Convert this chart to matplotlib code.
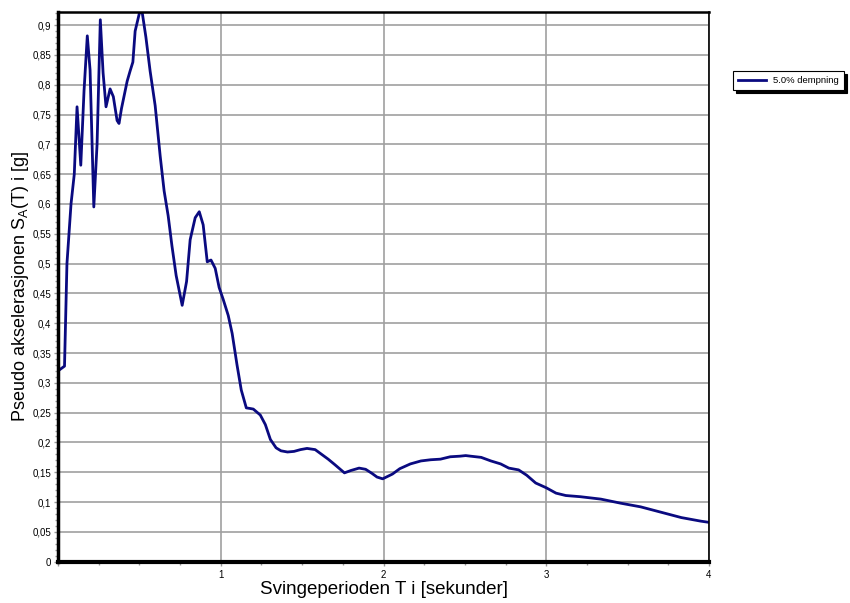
import numpy as np
import matplotlib
matplotlib.use('Agg')
import matplotlib.pyplot as plt
from matplotlib.ticker import MultipleLocator, FuncFormatter

# %% Data
T = [0.0, 0.04, 0.055, 0.08, 0.10, 0.117, 0.14, 0.16, 0.18, 0.197,
     0.22, 0.24, 0.26, 0.277, 0.295, 0.32, 0.34, 0.363, 0.375, 0.39,
     0.425, 0.443, 0.46, 0.474, 0.50, 0.517, 0.54, 0.566, 0.597, 0.628,
     0.652, 0.677, 0.70, 0.726, 0.763, 0.79, 0.812, 0.843, 0.868, 0.892,
     0.917, 0.94, 0.966, 0.99, 1.015, 1.046, 1.07, 1.10, 1.126, 1.157,
     1.18, 1.20, 1.243, 1.274, 1.305, 1.34, 1.37, 1.41, 1.45, 1.49,
     1.53, 1.58, 1.62, 1.66, 1.70, 1.73, 1.76, 1.80, 1.85, 1.89,
     1.93, 1.96, 1.995, 2.055, 2.10, 2.165, 2.23, 2.29, 2.35, 2.41,
     2.47, 2.505, 2.535, 2.60, 2.66, 2.72, 2.77, 2.83, 2.88, 2.935,
     3.0, 3.06, 3.12, 3.21, 3.335, 3.46, 3.58, 3.705, 3.83, 3.95, 4.0]
SA = [0.32, 0.328, 0.50, 0.60, 0.65, 0.763, 0.665, 0.79, 0.882, 0.825,
      0.595, 0.70, 0.909, 0.82, 0.763, 0.793, 0.78, 0.74, 0.735, 0.76,
      0.806, 0.823, 0.838, 0.89, 0.92, 0.922, 0.88, 0.823, 0.765, 0.68,
      0.622, 0.58, 0.53, 0.48, 0.43, 0.47, 0.54, 0.577, 0.587, 0.565,
      0.503, 0.506, 0.492, 0.46, 0.44, 0.413, 0.383, 0.33, 0.288, 0.258,
      0.257, 0.256, 0.246, 0.23, 0.205, 0.191, 0.186, 0.184, 0.185, 0.188,
      0.19, 0.188, 0.18, 0.172, 0.163, 0.156, 0.149, 0.153, 0.157, 0.155,
      0.148, 0.142, 0.139, 0.147, 0.156, 0.164, 0.169, 0.171, 0.172, 0.176,
      0.177, 0.178, 0.177, 0.175, 0.169, 0.164, 0.157, 0.154, 0.145, 0.132,
      0.124, 0.115, 0.111, 0.109, 0.105, 0.098, 0.092, 0.083, 0.074, 0.068, 0.066]

LegendText = '5.0% dempning'
XLabelText = 'Svingeperioden T i [sekunder]'
YLabelText = r'Pseudo akselerasjonen S$_{\mathregular{A}}$(T) i [g]'

LineColor = '#0a0a80'

plt.rcParams['font.family'] = ['Liberation Sans', 'DejaVu Sans']

# %% Figure
fig = plt.figure(figsize=(8.5, 6.03), dpi=100)
ax = fig.add_axes([58/850, 1-561.7/603, (709-58)/850, (561.7-12)/603])

line, = ax.plot(T, SA, color=LineColor, lw=2, label=LegendText, zorder=3)

ax.set_xlim(0, 4)
ax.set_ylim(0, 0.922)

ax.xaxis.set_major_locator(MultipleLocator(1))
ax.xaxis.set_minor_locator(MultipleLocator(0.25))
ax.yaxis.set_major_locator(MultipleLocator(0.05))
ax.yaxis.set_minor_locator(MultipleLocator(0.01))

def comma(v, pos):
    s = ('%.2f' % v).rstrip('0').rstrip('.')
    return s.replace('.', ',')

def xfmt(v, pos):
    return '' if abs(v) < 1e-9 else '%d' % round(v)

ax.yaxis.set_major_formatter(FuncFormatter(comma))
ax.xaxis.set_major_formatter(FuncFormatter(xfmt))

ax.tick_params(axis='both', which='major', labelsize=7, length=3, width=1,
               color='#999999', pad=2)
ax.tick_params(axis='both', which='minor', length=2, width=1, color='#999999')
ax.tick_params(axis='x', which='major', pad=3)

ax.grid(True, which='major', color='#a0a0a0', lw=1.2, zorder=1)

ax.spines['left'].set_linewidth(2.5)
ax.spines['bottom'].set_linewidth(3)
ax.spines['top'].set_linewidth(1.8)
ax.spines['right'].set_linewidth(1.2)
for s in ax.spines.values():
    s.set_color('black')
    s.set_zorder(4)

ax.set_xlabel(XLabelText, fontsize=13.5, labelpad=1)
ax.set_ylabel(YLabelText, fontsize=13, labelpad=1)

# %% Legend outside to the right
leg = fig.legend(handles=[line], loc='upper left',
                 bbox_to_anchor=(733/850, 1-71/603), fontsize=6.8,
                 fancybox=False, frameon=True, handlelength=2.9,
                 borderpad=0.55, borderaxespad=0, handletextpad=0.8,
                 shadow={'color': 'black', 'alpha': 1, 'ox': 2, 'oy': -2})
leg.get_frame().set_edgecolor('black')
leg.get_frame().set_linewidth(0.8)

fig.savefig('out.png', dpi=100)
